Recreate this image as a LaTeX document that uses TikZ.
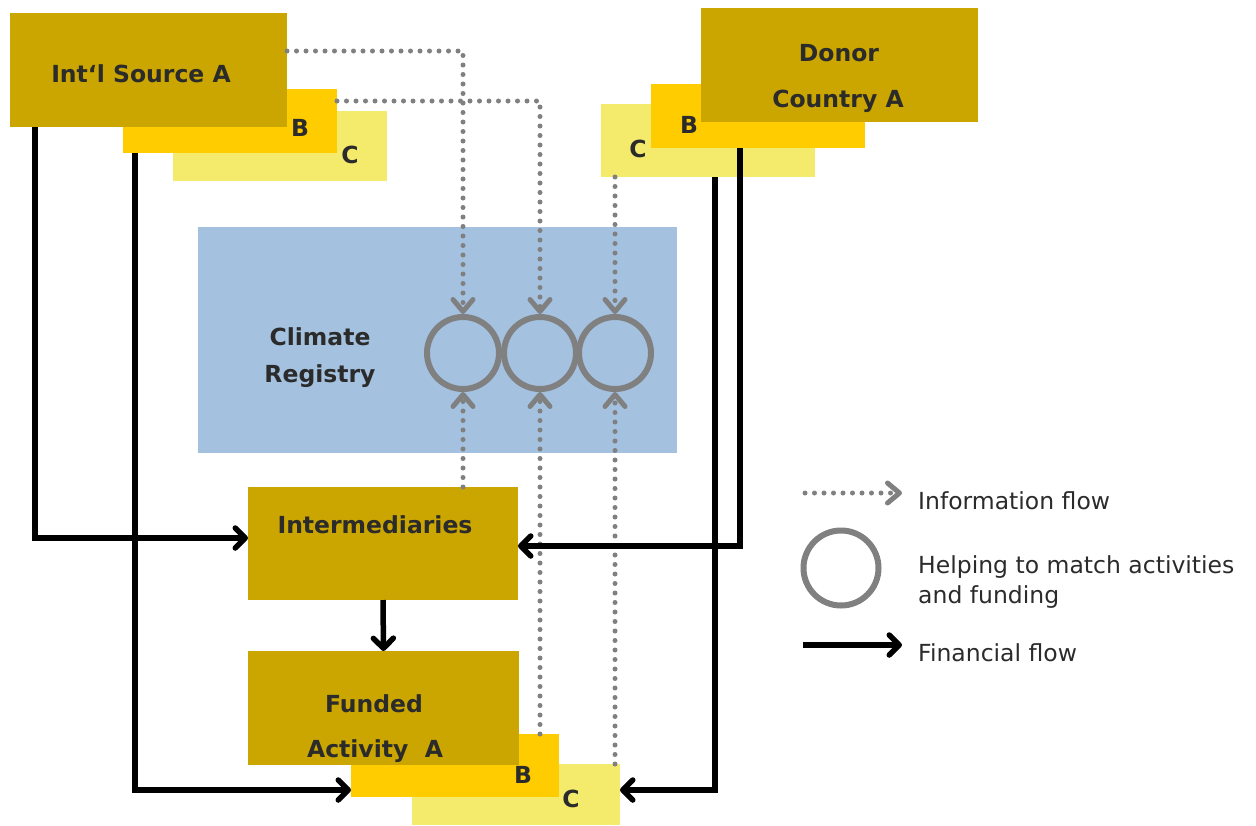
\documentclass[tikz,border=0pt]{standalone}
\usepackage{fontspec}
\setmainfont{DejaVu Sans}
\usetikzlibrary{arrows.meta}

\definecolor{gold}{RGB}{204,166,0}
\definecolor{amber}{RGB}{255,204,0}
\definecolor{paleyel}{RGB}{244,234,108}
\definecolor{regblue}{RGB}{164,194,224}
\definecolor{ink}{RGB}{43,43,43}
\definecolor{flowgray}{RGB}{128,128,128}

\tikzset{
  panel/.style={draw=none, inner sep=0pt, outer sep=0pt},
  tierA/.style={panel, fill=gold},
  tierB/.style={panel, fill=amber},
  tierC/.style={panel, fill=paleyel},
  registry/.style={panel, fill=regblue},
  lbl/.style={text=ink, inner sep=0pt, anchor=base,
    font=\fontsize{23.5}{28}\selectfont\bfseries},
  legtxt/.style={text=ink, inner sep=0pt, anchor=base west,
    font=\fontsize{23.5}{30}\selectfont},
  matchring/.style={circle, draw=flowgray, line width=6pt, inner sep=0pt,
    minimum size=72pt},
  money/.style={draw=black, line width=5.5pt,
    -{Straight Barb[round,length=10pt,width=20pt]}},
  info/.style={draw=flowgray, line width=5pt, line cap=round,
    dash pattern=on 0pt off 9.5pt,
    -{Straight Barb[round,length=12pt,width=20pt]}},
}

\begin{document}
\begin{tikzpicture}[x=1pt, y=-1pt]
\useasboundingbox (0,0) rectangle (1256,825);

% international sources (stacked A, B, C)
\node[tierC, minimum width=214pt, minimum height=70pt]  (srcC) at (280,146) {};
\node[tierB, minimum width=214pt, minimum height=64pt]  (srcB) at (230,121) {};
\node[tierA, minimum width=277pt, minimum height=114pt] (srcA) at (148.5,70) {};
\node[lbl] at (141,82) {Int‘l Source A};
\node[lbl] at (300,136) {B};
\node[lbl] at (350,163) {C};

% donor countries (stacked A, B, C)
\node[tierC, minimum width=214pt, minimum height=73pt]  (donC) at (708,140.5) {};
\node[tierB, minimum width=214pt, minimum height=64pt]  (donB) at (758,116) {};
\node[tierA, minimum width=277pt, minimum height=114pt] (donA) at (839.5,65) {};
\node[lbl] at (839,61) {Donor};
\node[lbl] at (838,107) {Country A};
\node[lbl] at (689,133) {B};
\node[lbl] at (638,157) {C};

% registry
\node[registry, minimum width=479pt, minimum height=226pt] (reg) at (437.5,340) {};
\node[lbl] at (320,345) {Climate};
\node[lbl] at (320,382) {Registry};

% intermediaries
\node[tierA, minimum width=270pt, minimum height=113pt] (inter) at (383,543.5) {};
\node[lbl] at (375,533) {Intermediaries};

% funded activities (stacked A, B, C)
\node[tierC, minimum width=208pt, minimum height=61pt]  (fundC) at (516,794.5) {};
\node[tierB, minimum width=208pt, minimum height=63pt]  (fundB) at (455,765.5) {};
\node[tierA, minimum width=271pt, minimum height=114pt] (fundA) at (383.5,708) {};
\node[lbl] at (374,712) {Funded};
\node[lbl] at (375,757) {Activity\ \ A};
\node[lbl] at (523,783) {B};
\node[lbl] at (571,807) {C};

% matching rings inside the registry
\node[matchring] (c1) at (463,353) {};
\node[matchring] (c2) at (540,353) {};
\node[matchring] (c3) at (615,353) {};

% information flows
\draw[info] (srcA.east |- 0,51) -| (c1.north);
\draw[info] (srcB.east |- 0,101) -| (c2.north);
\draw[info] (c3.north |- donC.south) -- (c3.north);
\draw[info] (c1.south |- inter.north) -- (c1.south);
\draw[info] (c2.south |- fundB.north) -- (c2.south);
\draw[info] (c3.south |- fundC.north) -- (c3.south);

% financial flows
\draw[money] (srcA.south -| 35,0) |- (inter.west |- 0,538);
\draw[money] (srcB.south -| 135,0) |- (fundB.west |- 0,790);
\draw[money] (donB.south -| 740,0) |- (inter.east |- 0,546);
\draw[money] (donC.south -| 715,0) |- (fundC.east |- 0,790);
\draw[money] (inter.south) -- (fundA.north);

% legend
\coordinate (infoL) at (805,493);
\coordinate (infoR) at (902,493);
\draw[info] (infoL) -- (infoR);
\node[legtxt] at (918,509) {Information flow};

\node[matchring, minimum size=75pt] (legring) at (841,568) {};
\node[legtxt] at (918,573) {Helping to match activities};
\node[legtxt] at (918,603) {and funding};

\coordinate (moneyL) at (803,645);
\coordinate (moneyR) at (902,645);
\draw[money] (moneyL) -- (moneyR);
\node[legtxt] at (918,661) {Financial flow};
\end{tikzpicture}
\end{document}
